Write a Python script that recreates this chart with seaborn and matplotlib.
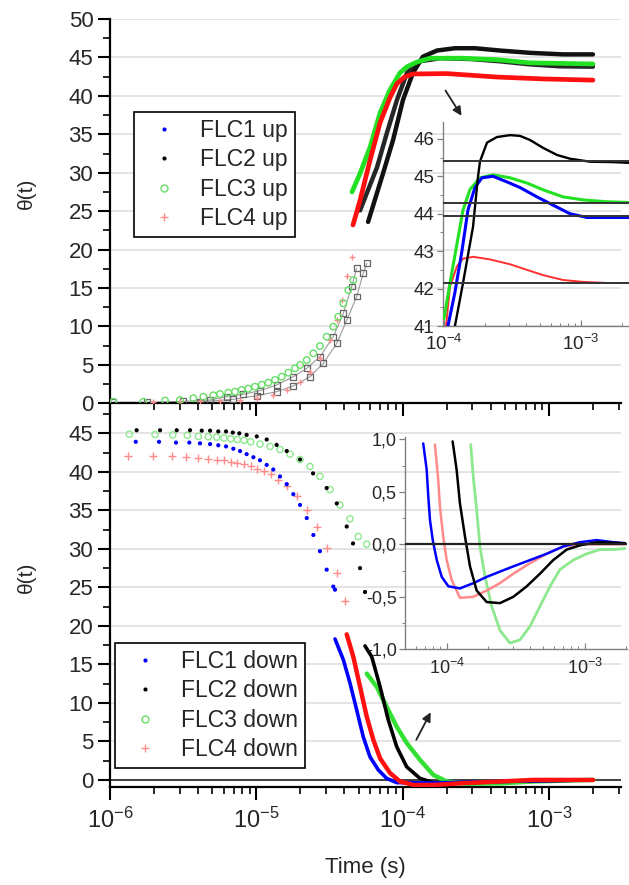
import numpy as np
import matplotlib
matplotlib.use("Agg")
import matplotlib.pyplot as plt
from matplotlib.lines import Line2D
from matplotlib.ticker import LogLocator, MultipleLocator, FuncFormatter, NullFormatter
import seaborn as sns

sns.set_theme(style="ticks")
plt.rcParams['font.family'] = ['Liberation Sans', 'DejaVu Sans']
plt.rcParams['mathtext.fontset'] = 'custom'
plt.rcParams['mathtext.rm'] = 'Liberation Sans'
plt.rcParams['mathtext.it'] = 'Liberation Sans:italic'

# ---- data (time given as log10(t / s), theta in degrees) ----
# switching "up", early part
flc1_up_lo_lt = [-5.977, -5.749, -5.499, -5.316, -5.202, -5.089, -4.975, -4.861, -4.747, -4.655, -4.565, -4.474, -4.405, -4.348, -4.314]
flc1_up_lo_th = [0.13, 0.13, 0.26, 0.43, 0.86, 1.17, 1.64, 2.38, 3.46, 4.55, 6.06, 8.66, 11.7, 15.2, 17.55]
flc2_up_lo_lt = [-5.385, -5.157, -4.997, -4.861, -4.747, -4.633, -4.542, -4.450, -4.382, -4.314, -4.269, -4.245]
flc2_up_lo_th = [0.2, 0.52, 0.99, 1.51, 2.25, 3.46, 5.2, 7.8, 10.8, 13.9, 16.9, 18.2]
flc3_up_lo_lt = [-5.977, -5.772, -5.624, -5.522, -5.431, -5.362, -5.294, -5.248, -5.191, -5.146, -5.100, -5.055, -5.009, -4.963,
                 -4.918, -4.872, -4.826, -4.781, -4.735, -4.701, -4.655, -4.610, -4.565, -4.519, -4.474, -4.440, -4.405, -4.371, -4.337]
flc3_up_lo_th = [0.2, 0.2, 0.35, 0.43, 0.65, 0.86, 1.04, 1.21, 1.38, 1.51, 1.73, 1.9, 2.16, 2.42,
                 2.68, 3.03, 3.46, 3.98, 4.55, 4.98, 5.63, 6.5, 7.45, 8.66, 9.96, 11.26, 13.0, 14.73, 16.03]
flc4_up_lo_lt = [-5.704, -5.522, -5.385, -5.248, -5.111, -4.997, -4.884, -4.792, -4.701, -4.633, -4.565, -4.496, -4.450, -4.416, -4.382, -4.348]
flc4_up_lo_th = [0.2, 0.2, 0.3, 0.35, 0.43, 0.65, 1.08, 1.73, 2.81, 4.1, 5.85, 8.23, 10.8, 13.4, 16.5, 19.1]

# switching "up", late part
flc1_up_hi_lt = [-4.291, -4.175, -4.107, -4.038, -3.970, -3.881, -3.744, -3.539, -3.334, -3.129, -2.924, -2.699]
flc1_up_hi_th = [25.1, 30.7, 35.2, 39.5, 43.0, 44.5, 44.9, 44.8, 44.5, 44.1, 43.85, 43.8]
flc2_up_hi_lt = [-4.236, -4.134, -4.066, -3.997, -3.929, -3.861, -3.765, -3.642, -3.505, -3.334, -3.129, -2.904, -2.699]
flc2_up_hi_th = [23.6, 29.9, 34.2, 39.5, 43.0, 45.1, 45.9, 46.2, 46.2, 45.9, 45.6, 45.4, 45.4]
flc3_up_hi_lt = [-4.346, -4.291, -4.223, -4.154, -4.086, -4.018, -3.970, -3.902, -3.813, -3.587, -3.355, -3.129, -2.699]
flc3_up_hi_th = [27.5, 29.9, 33.3, 37.8, 40.8, 43.0, 43.8, 44.4, 44.9, 44.9, 44.7, 44.3, 44.15]
flc4_up_hi_lt = [-4.339, -4.291, -4.223, -4.154, -4.086, -4.038, -3.984, -3.929, -3.697, -3.355, -3.027, -2.699]
flc4_up_hi_th = [23.2, 26.4, 31.6, 36.5, 39.8, 41.6, 42.5, 42.85, 42.9, 42.45, 42.2, 42.05]

# inset "up"
ins_up_flc1_lt = [-3.971, -3.920, -3.869, -3.825, -3.774, -3.723, -3.642, -3.540, -3.445, -3.321, -3.204, -3.080, -2.956, -2.810, -2.650]
ins_up_flc1_th = [41.0, 41.9, 43.0, 44.1, 44.7, 44.96, 45.0, 44.85, 44.7, 44.45, 44.23, 44.0, 43.9, 43.9, 43.9]
ins_up_flc2_lt = [-3.920, -3.861, -3.788, -3.752, -3.737, -3.686, -3.613, -3.518, -3.445, -3.372, -3.277, -3.175, -3.080, -2.934, -2.766, -2.650]
ins_up_flc2_th = [41.0, 42.15, 43.65, 44.98, 45.4, 45.9, 46.05, 46.1, 46.08, 45.97, 45.76, 45.57, 45.47, 45.39, 45.38, 45.36]
ins_up_flc3_lt = [-4.0, -3.956, -3.905, -3.861, -3.810, -3.737, -3.642, -3.518, -3.394, -3.277, -3.131, -2.985, -2.810, -2.650]
ins_up_flc3_th = [41.2, 42.15, 43.2, 44.1, 44.65, 44.96, 45.04, 44.96, 44.82, 44.64, 44.45, 44.37, 44.32, 44.3]
ins_up_flc4_lt = [-3.985, -3.956, -3.905, -3.861, -3.788, -3.664, -3.518, -3.394, -3.277, -3.131, -2.985, -2.810, -2.650]
ins_up_flc4_th = [41.0, 42.05, 42.6, 42.8, 42.85, 42.78, 42.65, 42.5, 42.36, 42.23, 42.18, 42.15, 42.15]
ins_up_levels = [45.4, 44.3, 43.95, 42.15]

# switching "down", early part
flc1_dn_hi_lt = [-5.824, -5.665, -5.549, -5.458, -5.385, -5.316, -5.260, -5.207, -5.157, -5.111, -5.066, -5.020, -4.975,
                 -4.929, -4.884, -4.838, -4.792, -4.747, -4.701, -4.655, -4.610, -4.565, -4.519, -4.474, -4.462]
flc1_dn_hi_th = [43.9, 43.9, 43.8, 43.8, 43.7, 43.6, 43.45, 43.3, 43.0, 42.7, 42.3, 41.9, 41.5,
                 40.9, 40.3, 39.4, 38.4, 37.1, 35.7, 34.0, 31.8, 29.7, 27.3, 25.1, 24.7]
flc2_dn_hi_lt = [-5.818, -5.658, -5.544, -5.453, -5.373, -5.316, -5.260, -5.207, -5.161, -5.116, -5.066, -4.997,
                 -4.929, -4.861, -4.792, -4.701, -4.612, -4.519, -4.450, -4.382, -4.339, -4.291, -4.257]
flc2_dn_hi_th = [45.4, 45.4, 45.4, 45.4, 45.35, 45.35, 45.25, 45.25, 45.1, 45.0, 44.8, 44.6,
                 44.2, 43.5, 42.7, 41.6, 39.8, 37.9, 35.9, 32.9, 30.7, 27.5, 24.4]
flc3_dn_hi_lt = [-5.868, -5.692, -5.571, -5.472, -5.396, -5.328, -5.271, -5.221, -5.175, -5.130, -5.084, -5.038,
                 -4.975, -4.906, -4.838, -4.770, -4.701, -4.633, -4.565, -4.496, -4.429, -4.360, -4.303, -4.245]
flc3_dn_hi_th = [44.9, 44.85, 44.8, 44.75, 44.6, 44.55, 44.5, 44.4, 44.3, 44.2, 44.1, 43.9,
                 43.6, 43.3, 42.9, 42.3, 41.6, 40.7, 39.4, 37.7, 35.7, 33.9, 31.6, 30.6]
flc4_dn_hi_lt = [-5.875, -5.704, -5.578, -5.481, -5.401, -5.332, -5.271, -5.221, -5.175, -5.130, -5.084, -5.038,
                 -4.993, -4.947, -4.902, -4.850, -4.792, -4.724, -4.655, -4.587, -4.519, -4.450, -4.394]
flc4_dn_hi_th = [42.1, 42.1, 42.0, 41.9, 41.8, 41.7, 41.6, 41.5, 41.3, 41.2, 41.0, 40.7,
                 40.4, 40.1, 39.7, 39.0, 38.1, 36.8, 35.1, 32.9, 30.1, 26.9, 23.2]

# switching "down", late part
flc1_dn_lo_lt = [-4.462, -4.405, -4.360, -4.314, -4.269, -4.223, -4.166, -4.109, -4.040, -3.792, -3.334, -2.700]
flc1_dn_lo_th = [18.3, 15.6, 12.6, 9.1, 5.6, 3.0, 1.3, 0.2, -0.35, -0.4, -0.2, 0.0]
flc2_dn_lo_lt = [-4.257, -4.211, -4.154, -4.098, -4.040, -3.972, -3.881, -3.790, -3.562, -3.334, -2.700]
flc2_dn_lo_th = [17.4, 16.0, 12.1, 7.8, 4.3, 1.7, 0.2, -0.35, -0.4, -0.2, 0.0]
flc3_dn_lo_lt = [-4.245, -4.177, -4.109, -4.040, -3.972, -3.881, -3.790, -3.699, -3.562, -3.334, -3.107, -2.697]
flc3_dn_lo_th = [13.8, 12.1, 9.5, 6.9, 4.8, 2.6, 0.65, -0.2, -0.5, -0.45, -0.2, 0.0]
flc4_dn_lo_lt = [-4.382, -4.337, -4.291, -4.245, -4.200, -4.154, -4.086, -4.018, -3.927, -3.790, -3.562, -3.334, -3.107, -2.697]
flc4_dn_lo_th = [18.9, 16.0, 12.1, 8.2, 5.2, 2.8, 0.9, -0.2, -0.65, -0.65, -0.4, -0.2, 0.0, 0.0]

# inset "down"
ins_dn_flc1_lt = [-4.170, -4.145, -4.133, -4.121, -4.101, -4.072, -4.036, -3.988, -3.904, -3.807, -3.710, -3.614, -3.517,
                  -3.396, -3.275, -3.155, -3.034, -2.913, -2.793, -2.708]
ins_dn_flc1_th = [0.96, 0.71, 0.45, 0.23, 0.04, -0.15, -0.31, -0.40, -0.42, -0.37, -0.31, -0.26, -0.21,
                  -0.15, -0.09, -0.02, 0.02, 0.04, 0.02, 0.01]
ins_dn_flc2_lt = [-3.957, -3.928, -3.904, -3.867, -3.831, -3.783, -3.710, -3.614, -3.517, -3.420, -3.324, -3.228,
                  -3.130, -3.034, -2.913, -2.793, -2.708]
ins_dn_flc2_th = [0.98, 0.71, 0.39, 0.07, -0.21, -0.44, -0.55, -0.56, -0.50, -0.40, -0.28, -0.15,
                  -0.05, -0.01, 0.02, 0.015, 0.01]
ins_dn_flc3_lt = [-3.826, -3.807, -3.783, -3.759, -3.722, -3.674, -3.614, -3.541, -3.469, -3.396, -3.324, -3.251,
                  -3.179, -3.083, -2.986, -2.889, -2.793, -2.708]
ins_dn_flc3_th = [0.95, 0.64, 0.33, -0.02, -0.31, -0.59, -0.82, -0.94, -0.91, -0.78, -0.59, -0.40,
                  -0.24, -0.15, -0.09, -0.05, -0.05, -0.04]
ins_dn_flc4_lt = [-4.085, -4.061, -4.049, -4.025, -4.0, -3.964, -3.904, -3.807, -3.710, -3.614, -3.517, -3.396,
                  -3.275, -3.155, -3.034, -2.793, -2.708]
ins_dn_flc4_th = [0.95, 0.61, 0.36, 0.07, -0.15, -0.34, -0.51, -0.50, -0.44, -0.37, -0.28, -0.18,
                  -0.09, -0.02, 0.0, 0.0, 0.0]

up_labels = ["FLC1 up", "FLC2 up", "FLC3 up", "FLC4 up"]
down_labels = ["FLC1 down", "FLC2 down", "FLC3 down", "FLC4 down"]

BLUE = "#0000ff"
GREEN = "#22e022"
LGREEN = "#8ee88e"
RED = "#ff1010"
LRED = "#ff8a8a"


def T(lt):
    return 10.0 ** np.asarray(lt)


def line(ax, lt, th, color, lw, z=3):
    sns.lineplot(x=T(lt), y=th, ax=ax, color=color, lw=lw, sort=False, estimator=None, legend=False, zorder=z)


def pts(ax, lt, th, color, marker, s, hollow=False, lw=1.0, z=4):
    if hollow:
        sns.scatterplot(x=T(lt), y=th, ax=ax, marker=marker, s=s, facecolors="none",
                        edgecolor=color, linewidth=lw, legend=False, zorder=z)
    elif marker == "+":
        sns.scatterplot(x=T(lt), y=th, ax=ax, marker=marker, s=s, color=color,
                        linewidth=lw, legend=False, zorder=z)
    else:
        sns.scatterplot(x=T(lt), y=th, ax=ax, marker=marker, s=s, color=color,
                        edgecolor="none", legend=False, zorder=z)


fig = plt.figure(figsize=(6.29, 8.85), dpi=100)
ax_dn = fig.add_axes([0.1749, 0.1109, 0.8124, 0.4334])
ax_up = fig.add_axes([0.1749, 0.5443, 0.8124, 0.4342])

XMIN, XMAX = 1e-6, 10 ** -2.507
for ax in (ax_up, ax_dn):
    ax.set_xscale("log")
    ax.set_xlim(XMIN, XMAX)
    ax.xaxis.set_major_locator(LogLocator(base=10, numticks=12))
    ax.xaxis.set_minor_locator(LogLocator(base=10, subs=np.arange(2, 10), numticks=12))
    ax.xaxis.set_minor_formatter(NullFormatter())
    ax.yaxis.set_major_locator(MultipleLocator(5))
    ax.yaxis.set_minor_locator(MultipleLocator(2.5))
    ax.grid(axis="y", which="major", color="#e2e2e2", lw=1.3)
    ax.set_axisbelow(True)
    for s in ("top", "right"):
        ax.spines[s].set_visible(False)
    for s in ("left", "bottom"):
        ax.spines[s].set_color("black")
        ax.spines[s].set_linewidth(1.6)
    ax.tick_params(which="major", direction="out", length=9, width=1.5, color="black", labelsize=16, pad=3)
    ax.tick_params(which="minor", direction="out", length=5, width=1.2, color="black")
    ax.set_xlabel("")
    ax.set_ylabel("")

ax_up.set_ylim(0, 50)
ax_up.tick_params(axis="x", labelbottom=False)
ax_dn.set_ylim(-0.9, 48.9)
ax_dn.tick_params(axis="x", labelsize=17, pad=6)

# ---- top panel ----
line(ax_up, flc1_up_lo_lt, flc1_up_lo_th, "#9a9a9a", 0.8, z=2)
line(ax_up, flc2_up_lo_lt, flc2_up_lo_th, "#9a9a9a", 0.8, z=2)
pts(ax_up, flc1_up_lo_lt, flc1_up_lo_th, "#666666", "s", 18, hollow=True, lw=0.9)
pts(ax_up, flc2_up_lo_lt, flc2_up_lo_th, "#666666", "s", 18, hollow=True, lw=0.9)
pts(ax_up, flc4_up_lo_lt, flc4_up_lo_th, LRED, "+", 22, lw=1.0)
pts(ax_up, flc3_up_lo_lt, flc3_up_lo_th, "#66dd66", "o", 22, hollow=True, lw=1.0)

line(ax_up, flc1_up_hi_lt, flc1_up_hi_th, "#262626", 3.2, z=3)
line(ax_up, flc2_up_hi_lt, flc2_up_hi_th, "#111111", 3.2, z=3)
line(ax_up, flc3_up_hi_lt, flc3_up_hi_th, GREEN, 3.4, z=4)
line(ax_up, flc4_up_hi_lt, flc4_up_hi_th, RED, 3.4, z=5)

ax_up.annotate("", xy=(10 ** -3.587, 37.1), xytext=(10 ** -3.717, 41.0),
               arrowprops=dict(arrowstyle="-|>", color="#222222", lw=1.3, mutation_scale=13))

up_handles = [
    Line2D([], [], ls="none", marker="o", ms=3, color=BLUE, mec="none"),
    Line2D([], [], ls="none", marker="o", ms=3, color="black", mec="none"),
    Line2D([], [], ls="none", marker="o", ms=5, mfc="none", mec="#66dd66", mew=1),
    Line2D([], [], ls="none", marker="+", ms=6, color=LRED, mew=1),
]
down_handles = up_handles

leg_kw = dict(loc="upper left", frameon=True, fancybox=False, edgecolor="black", framealpha=1,
              fontsize=16.5, handlelength=2.0, handletextpad=0.6, borderpad=0.3,
              labelspacing=0.28, borderaxespad=0)
leg = ax_up.legend(up_handles, up_labels, bbox_to_anchor=(0.047, 0.758), **leg_kw)
leg.get_frame().set_linewidth(1.2)

# ---- bottom panel ----
ax_dn.axhline(0, color="#333333", lw=1.3, zorder=2)
pts(ax_dn, flc3_dn_hi_lt, flc3_dn_hi_th, LGREEN, "o", 20, hollow=True, lw=1.0)
pts(ax_dn, flc4_dn_hi_lt, flc4_dn_hi_th, LRED, "+", 26, lw=1.0)
pts(ax_dn, flc2_dn_hi_lt, flc2_dn_hi_th, "black", "o", 9)
pts(ax_dn, flc1_dn_hi_lt, flc1_dn_hi_th, BLUE, "o", 9)

line(ax_dn, flc3_dn_lo_lt, flc3_dn_lo_th, "#33e033", 3.2, z=3)
line(ax_dn, flc2_dn_lo_lt, flc2_dn_lo_th, "black", 2.6, z=4)
line(ax_dn, flc1_dn_lo_lt, flc1_dn_lo_th, BLUE, 2.6, z=5)
line(ax_dn, flc4_dn_lo_lt, flc4_dn_lo_th, RED, 3.2, z=6)

ax_dn.annotate("", xy=(10 ** -3.799, 9.1), xytext=(10 ** -3.915, 4.9),
               arrowprops=dict(arrowstyle="-|>", color="#222222", lw=1.3, mutation_scale=13))

leg2 = ax_dn.legend(down_handles, down_labels, bbox_to_anchor=(0.0098, 0.375), **leg_kw)
leg2.get_frame().set_linewidth(1.2)

# ---- insets ----
def style_inset(ax, lab):
    ax.set_facecolor("none")
    for s in ("top", "right"):
        ax.spines[s].set_visible(False)
    for s in ("left", "bottom"):
        ax.spines[s].set_color("#808080")
        ax.spines[s].set_linewidth(1.0)
    ax.grid(False)
    ax.set_xscale("log")
    ax.xaxis.set_major_locator(LogLocator(base=10, numticks=12))
    ax.xaxis.set_minor_locator(LogLocator(base=10, subs=np.arange(2, 10), numticks=12))
    ax.xaxis.set_minor_formatter(NullFormatter())
    ax.tick_params(which="major", length=4, width=0.9, color="#808080", labelsize=lab, pad=2)
    ax.tick_params(which="minor", length=2.5, width=0.7, color="#808080")
    ax.tick_params(axis="x", which="both", direction="in", pad=6)
    ax.tick_params(axis="y", which="both", direction="out")
    ax.set_xlabel("")
    ax.set_ylabel("")


ax_iu = fig.add_axes([0.7043, 0.6316, 0.2957, 0.2305])
style_inset(ax_iu, 13.5)
ax_iu.set_xlim(10 ** -4.007, 10 ** -2.65)
ax_iu.set_ylim(41, 46.45)
ax_iu.yaxis.set_major_locator(MultipleLocator(1))
ax_iu.yaxis.set_minor_locator(MultipleLocator(0.5))
for lv in ins_up_levels:
    ax_iu.axhline(lv, color="#333333", lw=1.4, zorder=6)
line(ax_iu, ins_up_flc4_lt, ins_up_flc4_th, "#ff3030", 1.4, z=2)
line(ax_iu, ins_up_flc3_lt, ins_up_flc3_th, GREEN, 2.2, z=3)
line(ax_iu, ins_up_flc1_lt, ins_up_flc1_th, BLUE, 2.2, z=4)
line(ax_iu, ins_up_flc2_lt, ins_up_flc2_th, "black", 1.7, z=5)

ax_id = fig.add_axes([0.6439, 0.2663, 0.353, 0.2397])
style_inset(ax_id, 13)
ax_id.set_xlim(10 ** -4.302, 10 ** -2.693)
ax_id.set_ylim(-1.0, 1.02)
ax_id.yaxis.set_major_locator(MultipleLocator(0.5))
ax_id.yaxis.set_minor_locator(MultipleLocator(0.25))
ax_id.yaxis.set_major_formatter(FuncFormatter(lambda v, p: f"{v:.1f}".replace(".", ",")))
ax_id.axhline(0, color="#222222", lw=1.6, zorder=6)
line(ax_id, ins_dn_flc3_lt, ins_dn_flc3_th, LGREEN, 2.0, z=2)
line(ax_id, ins_dn_flc4_lt, ins_dn_flc4_th, LRED, 1.8, z=3)
line(ax_id, ins_dn_flc1_lt, ins_dn_flc1_th, BLUE, 1.8, z=4)
line(ax_id, ins_dn_flc2_lt, ins_dn_flc2_th, "black", 1.8, z=5)

# ---- axis titles ----
fig.text(26 / 629, 1 - 193 / 885, "θ(t)", rotation=90, ha="center", va="center", fontsize=15)
fig.text(26 / 629, 1 - 577 / 885, "θ(t)", rotation=90, ha="center", va="center", fontsize=15)
fig.text(365 / 629, 1 - 868 / 885, "Time (s)", ha="center", va="center", fontsize=16)

fig.savefig("out.png", dpi=100)
